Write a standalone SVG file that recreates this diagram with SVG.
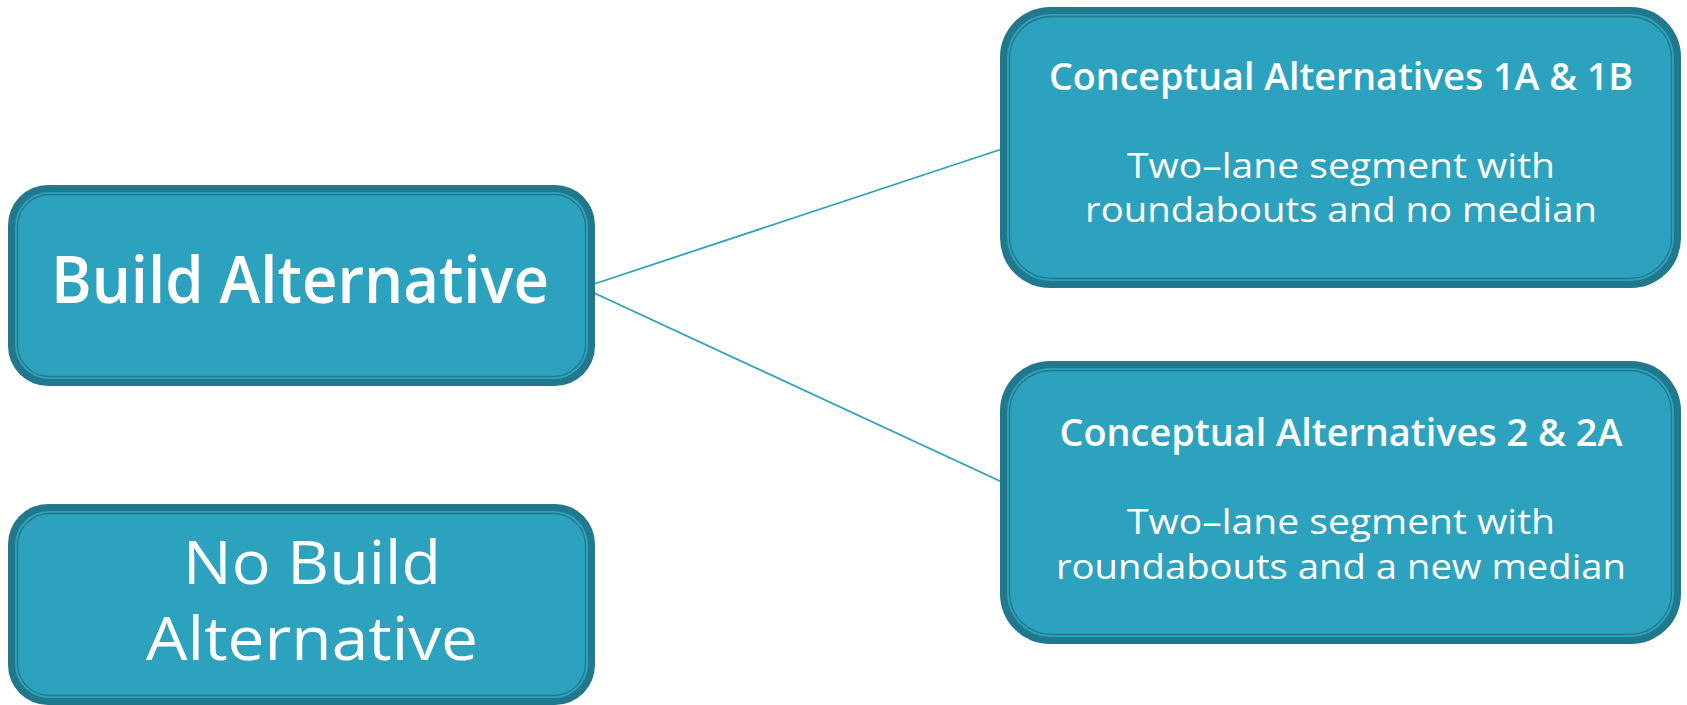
<svg xmlns="http://www.w3.org/2000/svg" width="1687" height="705" viewBox="0 0 1687 705">
<style>
.outer{fill:#21788C}
.inner{fill:#2DA2BF}
.ring{fill:none;stroke:#21788C;stroke-width:1.3}
.t{fill:#ffffff;font-family:"Open Sans","DejaVu Sans",sans-serif;text-anchor:middle}
.conn{stroke:#2CA2BF;stroke-width:1.8;fill:none}
</style>
<rect width="1687" height="705" fill="#ffffff"/>
<g id="connectors">
<line class="conn" x1="591" y1="285" x2="1002" y2="149"/>
<line class="conn" x1="592" y1="292" x2="1002" y2="482"/>
</g>
<g id="build">
<rect class="outer" x="8" y="185" width="587" height="201" rx="40"/>
<rect class="inner" x="15" y="192" width="573" height="187" rx="34"/>
<rect class="ring" x="17.5" y="194.5" width="568" height="182" rx="32"/>
<text class="t" x="300" y="303" font-size="66" font-weight="600" textLength="498" lengthAdjust="spacingAndGlyphs">Build Alternative</text>
</g>
<g id="nobuild">
<rect class="outer" x="8" y="504" width="587" height="201" rx="40"/>
<rect class="inner" x="15" y="511" width="573" height="187" rx="34"/>
<rect class="ring" x="17.5" y="513.5" width="568" height="182" rx="32"/>
<text class="t" x="312" y="584" font-size="60" textLength="258" lengthAdjust="spacingAndGlyphs">No Build</text>
<text class="t" x="312" y="660" font-size="60" textLength="332" lengthAdjust="spacingAndGlyphs">Alternative</text>
</g>
<g id="alt1">
<rect class="outer" x="1000" y="7" width="681" height="281" rx="50"/>
<rect class="inner" x="1007" y="14" width="667" height="267" rx="44"/>
<rect class="ring" x="1009.5" y="16.5" width="662" height="262" rx="42"/>
<text class="t" x="1341" y="90" font-size="38" font-weight="600" textLength="584" lengthAdjust="spacingAndGlyphs">Conceptual Alternatives 1A &amp; 1B</text>
<text class="t" x="1341" y="178" font-size="34" textLength="428" lengthAdjust="spacingAndGlyphs">Two–lane segment with</text>
<text class="t" x="1341" y="222" font-size="34" textLength="512" lengthAdjust="spacingAndGlyphs">roundabouts and no median</text>
</g>
<g id="alt2">
<rect class="outer" x="1000" y="361" width="681" height="283" rx="50"/>
<rect class="inner" x="1007" y="368" width="667" height="269" rx="44"/>
<rect class="ring" x="1009.5" y="370.5" width="662" height="264" rx="42"/>
<text class="t" x="1341" y="446" font-size="38" font-weight="600" textLength="563" lengthAdjust="spacingAndGlyphs">Conceptual Alternatives 2 &amp; 2A</text>
<text class="t" x="1341" y="534" font-size="34" textLength="428" lengthAdjust="spacingAndGlyphs">Two–lane segment with</text>
<text class="t" x="1341" y="579" font-size="34" textLength="570" lengthAdjust="spacingAndGlyphs">roundabouts and a new median</text>
</g>
</svg>
